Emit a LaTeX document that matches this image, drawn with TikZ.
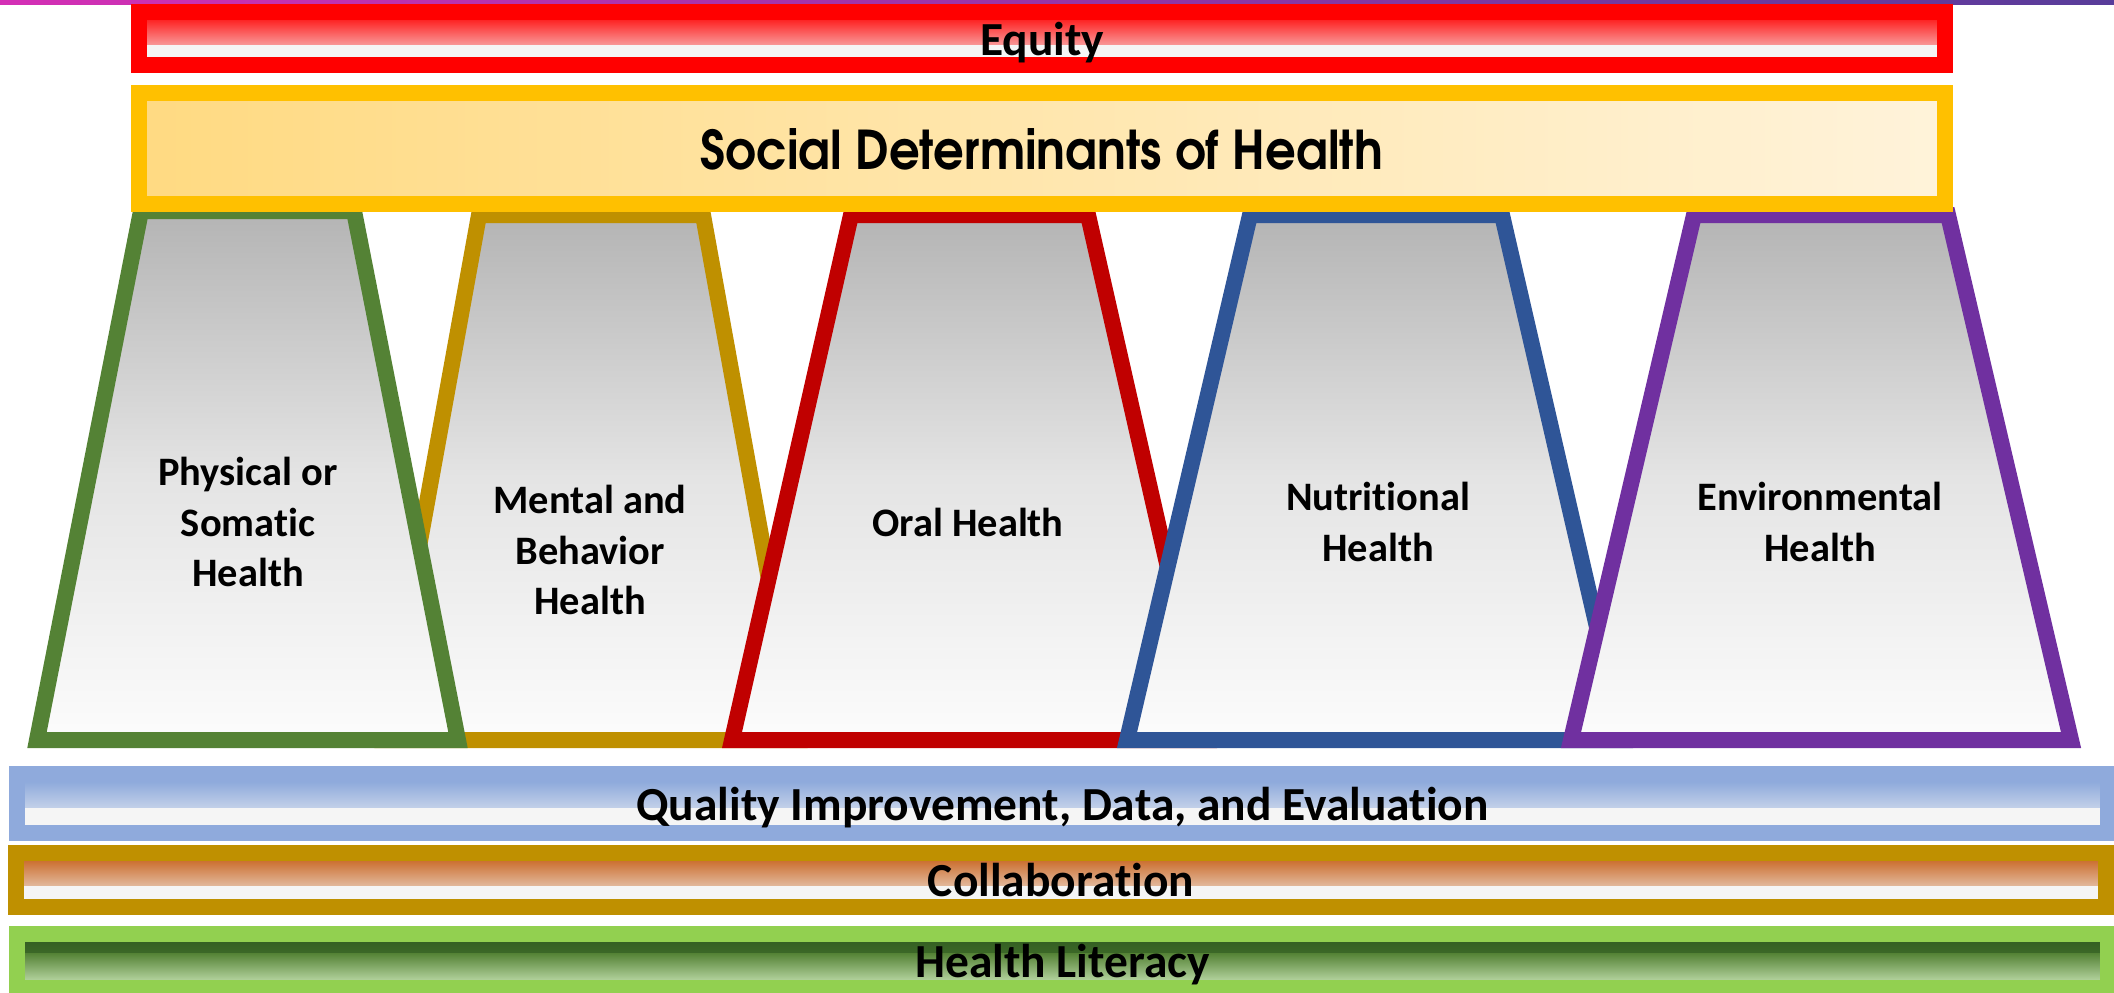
\documentclass[tikz,border=0pt]{standalone}
\usepackage{fontspec}
\setmainfont{Carlito}[Ligatures=NoCommon]
\newfontfamily\sdohfont{texgyreadventor-bold.otf}

\definecolor{rulemag}{HTML}{D42FB5}
\definecolor{rulepurple}{HTML}{583C9A}
\definecolor{equityred}{HTML}{FF0000}
\definecolor{sdohgold}{HTML}{FFC000}
\definecolor{sdohleft}{HTML}{FFDA82}
\definecolor{sdohright}{HTML}{FFF3DA}
\definecolor{physgreen}{HTML}{548235}
\definecolor{mentgold}{HTML}{BF9000}
\definecolor{oralred}{HTML}{C00000}
\definecolor{nutrblue}{HTML}{2F5597}
\definecolor{envipurple}{HTML}{7030A0}
\definecolor{pillartop}{HTML}{B4B4B4}
\definecolor{pillarmid}{HTML}{E4E4E4}
\definecolor{pillarbot}{HTML}{FCFCFC}
\definecolor{qualblue}{HTML}{8FAADC}
\definecolor{qualtop}{HTML}{7F9FD8}
\definecolor{collgold}{HTML}{BF9000}
\definecolor{colltop}{HTML}{C55A11}
\definecolor{litgreen}{HTML}{92D050}
\definecolor{litdark}{HTML}{2F5A20}
\definecolor{litmid}{HTML}{548235}
\definecolor{litlight}{HTML}{CDE8BA}
\definecolor{barwhite}{HTML}{F5F5F5}

\tikzstyle{bar} = [rectangle, line width=0.16cm, inner sep=0pt, fill=barwhite,
    text centered, text height=11.6pt, text depth=2pt,
    font=\fontsize{13.5pt}{16pt}\selectfont\bfseries]
\tikzstyle{pillar} = [line width=0.16cm, line join=miter,
    top color=pillartop, bottom color=pillarbot, middle color=pillarmid]
\tikzstyle{pillartext} = [align=center, inner sep=0pt,
    font=\fontsize{11.5pt}{14.4pt}\selectfont\bfseries]

\begin{document}
\begin{tikzpicture}
	\useasboundingbox (0,0) rectangle (21.14,-9.92);
	\shade [left color=rulemag, right color=rulepurple] (0,0) rectangle (21.14,-0.04);
	%
	\draw [pillar, draw=mentgold] (4.79,-2.15) -- (7.03,-2.15) -- (7.98,-7.40) -- (3.84,-7.40) -- cycle;
	\draw [pillar, draw=physgreen] (1.41,-2.11) -- (3.54,-2.11) -- (4.58,-7.40) -- (0.37,-7.40) -- cycle;
	\draw [pillar, draw=oralred] (8.51,-2.15) -- (10.88,-2.15) -- (12.07,-7.40) -- (7.32,-7.40) -- cycle;
	\draw [pillar, draw=nutrblue] (12.50,-2.15) -- (15.02,-2.15) -- (16.23,-7.40) -- (11.27,-7.40) -- cycle;
	\draw [pillar, draw=envipurple] (16.94,-2.15) -- (19.48,-2.15) -- (20.71,-7.40) -- (15.71,-7.40) -- cycle;
	%
	\node [pillartext] (phys) at (2.48,-5.22) {Physical or\\Somatic\\Health};
	\node [pillartext] (ment) at (5.90,-5.50) {Mental and\\Behavior\\Health};
	\node [pillartext] (oral) at (9.68,-5.22) {Oral Health};
	\node [pillartext] (nutr) at (13.78,-5.22) {Nutritional\\Health};
	\node [pillartext] (envi) at (18.20,-5.22) {Environmental\\Health};
	%
	\node [bar, draw=equityred, minimum width=18.06cm, minimum height=0.53cm,
		path picture={\shade [top color=equityred, bottom color=barwhite]
			(path picture bounding box.north west) rectangle ([yshift=-3.2mm]path picture bounding box.north east);}]
		(equity) at (10.42,-0.385) {Equity};
	\node [bar, draw=sdohgold, left color=sdohleft, right color=sdohright,
		minimum width=18.06cm, minimum height=1.11cm, text height=12pt, text depth=0pt,
		font=\sdohfont\fontsize{15.2pt}{18pt}\selectfont]
		(sdoh) at (10.42,-1.485) {\scalebox{0.9}[1]{Social Determinants of Health}};
	%
	\node [bar, draw=qualblue, minimum width=20.91cm, minimum height=0.59cm,
		path picture={\shade [top color=qualtop, bottom color=barwhite]
			(path picture bounding box.north west) rectangle ([yshift=-3.3mm]path picture bounding box.north east);}]
		(qual) at (10.625,-8.035) {Quality Improvement, Data, and Evaluation};
	\node [bar, draw=collgold, minimum width=20.90cm, minimum height=0.54cm,
		path picture={\shade [top color=colltop, bottom color=barwhite]
			(path picture bounding box.north west) rectangle ([yshift=-3.2mm]path picture bounding box.north east);}]
		(coll) at (10.61,-8.80) {Collaboration};
	\node [bar, draw=litgreen, minimum width=20.91cm, minimum height=0.54cm,
		path picture={\shade [top color=litdark, bottom color=litmid]
			(path picture bounding box.north west) rectangle ([yshift=-1.9mm]path picture bounding box.north east);
			\shade [top color=litmid, bottom color=litlight]
			([yshift=-1.9mm]path picture bounding box.north west) rectangle (path picture bounding box.south east);}]
		(lit) at (10.625,-9.61) {Health Literacy};
\end{tikzpicture}
\end{document}
